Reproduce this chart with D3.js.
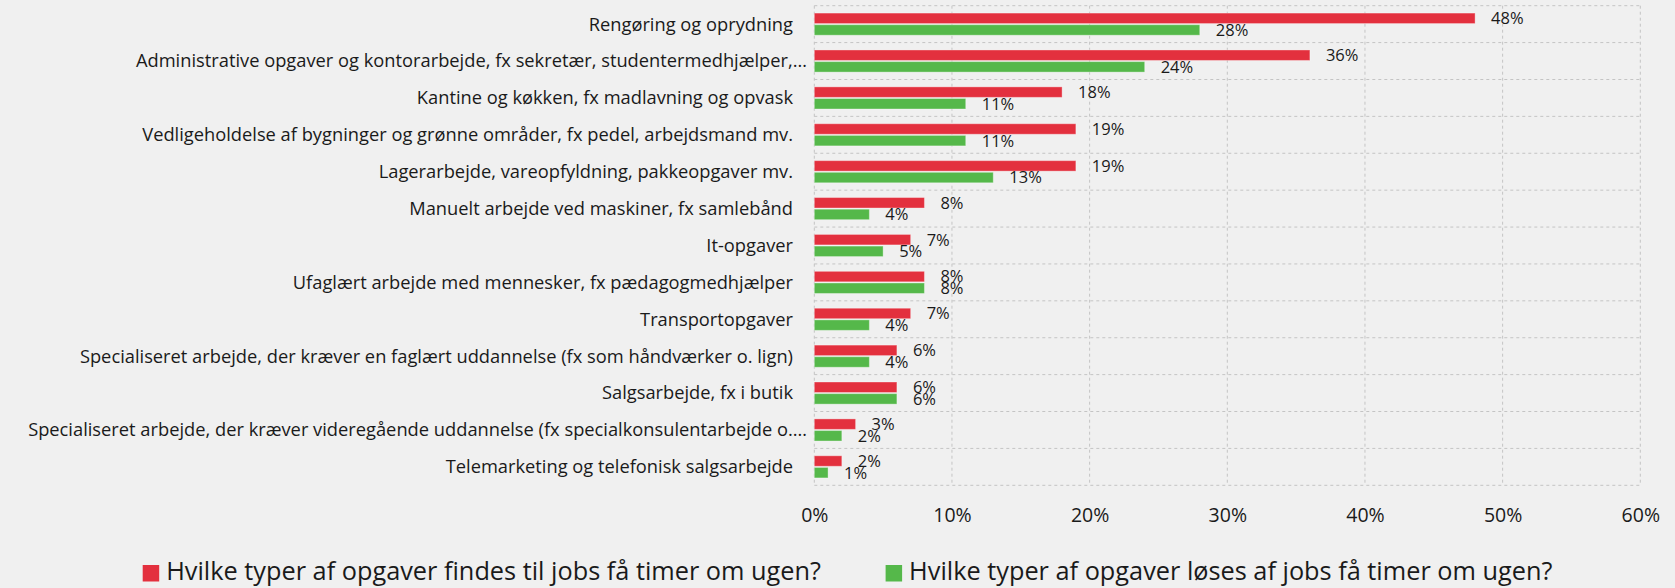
<!DOCTYPE html>
<html><head><meta charset="utf-8">
<script src="https://cdn.jsdelivr.net/npm/d3@7"></script>
<style>
html,body{margin:0;padding:0;background:#f0f0f0;}
svg{display:block;font-family:"Open Sans","Noto Sans",sans-serif;}
</style></head>
<body>
<svg id="chart" width="1675" height="588"></svg>
<script>
const categories = [
  "Rengøring og oprydning",
  "Administrative opgaver og kontorarbejde, fx sekretær, studentermedhjælper,…",
  "Kantine og køkken, fx madlavning og opvask",
  "Vedligeholdelse af bygninger og grønne områder, fx pedel, arbejdsmand mv.",
  "Lagerarbejde, vareopfyldning, pakkeopgaver mv.",
  "Manuelt arbejde ved maskiner, fx samlebånd",
  "It-opgaver",
  "Ufaglært arbejde med mennesker, fx pædagogmedhjælper",
  "Transportopgaver",
  "Specialiseret arbejde, der kræver en faglært uddannelse (fx som håndværker o. lign)",
  "Salgsarbejde, fx i butik",
  "Specialiseret arbejde, der kræver videregående uddannelse (fx specialkonsulentarbejde o.…",
  "Telemarketing og telefonisk salgsarbejde"
];
const seriesNames = [
  "Hvilke typer af opgaver findes til jobs få timer om ugen?",
  "Hvilke typer af opgaver løses af jobs få timer om ugen?"
];
const findesValues = [48, 36, 18, 19, 19, 8, 7, 8, 7, 6, 6, 3, 2];
const loesesValues = [28, 24, 11, 11, 13, 4, 5, 8, 4, 4, 6, 2, 1];
const xTicks = [0, 10, 20, 30, 40, 50, 60];
const colors = ["#e3303e", "#55b84a"];

(function () {
const svg = d3.select("#chart");
const pLeft = 814.3, pRight = 1640.3, pTop = 5.7, pBottom = 485.3;

const x = d3.scaleLinear().domain([0, 60]).range([pLeft, pRight]);
const y = d3.scaleBand().domain(categories).range([pTop, pBottom]).paddingInner(0.4).paddingOuter(0.2);
const sub = d3.scaleBand().domain([0, 1]).range([0, y.bandwidth()]).paddingInner(0.1);

const grid = svg.append("g").attr("stroke", "#c4c4c4").attr("stroke-width", 1).attr("stroke-dasharray", "3,3");
xTicks.forEach(t => {
  grid.append("line").attr("x1", x(t)).attr("x2", x(t)).attr("y1", pTop).attr("y2", pBottom);
});
d3.range(categories.length + 1).forEach(i => {
  const yy = pTop + i * y.step();
  grid.append("line").attr("x1", pLeft).attr("x2", pRight).attr("y1", yy).attr("y2", yy);
});

const series = [findesValues, loesesValues];
const rows = categories.map((c, i) => ({c, vals: series.map(s => s[i])}));

const g = svg.append("g");
rows.forEach(r => {
  r.vals.forEach((v, k) => {
    const by = y(r.c) + sub(k);
    g.append("rect")
      .attr("x", x(0)).attr("y", by)
      .attr("width", x(v) - x(0)).attr("height", sub.bandwidth())
      .attr("fill", colors[k])
      .attr("stroke", "rgba(255,255,255,0.35)").attr("stroke-width", 1);
    g.append("text")
      .attr("x", x(v) + 16).attr("y", by + sub.bandwidth() / 2 + 1.5)
      .attr("dominant-baseline", "middle")
      .attr("font-size", 16.5).attr("fill", "#1a1a1a")
      .text(v + "%");
  });
});

svg.append("g").selectAll("text").data(categories).join("text")
  .attr("x", d => d.endsWith("…") ? 807 : 793)
  .attr("y", d => y(d) + y.bandwidth() / 2 + 1.5)
  .attr("text-anchor", "end")
  .attr("dominant-baseline", "middle")
  .attr("font-size", 18.3).attr("fill", "#1a1a1a")
  .text(d => d);

const xAxis = d3.axisBottom(x).tickValues(xTicks).tickFormat(d => d + "%").tickSize(0).tickPadding(0);
const ax = svg.append("g").attr("transform", `translate(0,${pBottom})`).call(xAxis);
ax.select(".domain").remove();
ax.selectAll("text").attr("font-size", 19.5).attr("fill", "#1a1a1a")
  .attr("font-family", '"Open Sans","Noto Sans",sans-serif')
  .attr("dy", null).attr("y", 31.5).attr("dominant-baseline", "middle");

const legendX = [142.7, 885.6];
const lg = svg.append("g");
seriesNames.forEach((n, k) => {
  lg.append("rect").attr("x", legendX[k]).attr("y", 565).attr("width", 16.5).attr("height", 16.5).attr("fill", colors[k]);
  lg.append("text").attr("x", legendX[k] + 23.5).attr("y", 573.5)
    .attr("dominant-baseline", "middle").attr("font-size", 25.3).attr("fill", "#1a1a1a").text(n);
});
})();
</script>
</body></html>
